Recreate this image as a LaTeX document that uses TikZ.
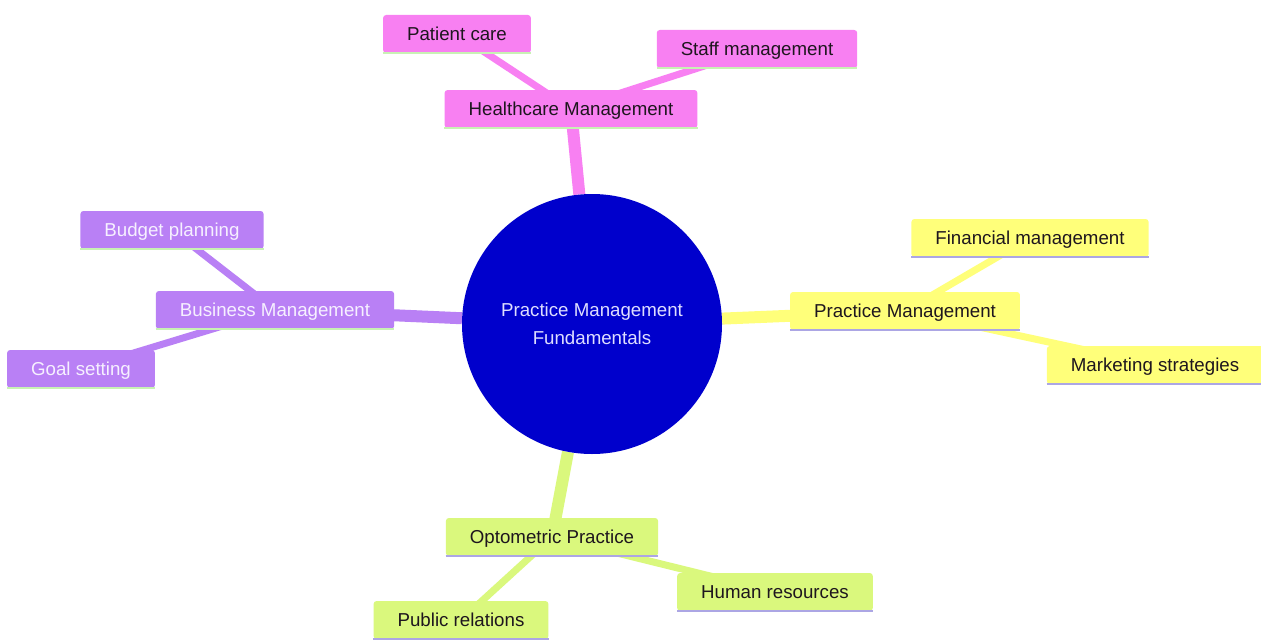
\documentclass[tikz,border=0pt]{standalone}
\usepackage{fontspec}
\setmainfont{Liberation Sans}
\usetikzlibrary{backgrounds}
\definecolor{pinkc}{RGB}{248,128,242}
\definecolor{purc}{RGB}{185,128,245}
\definecolor{yelc}{RGB}{255,255,122}
\definecolor{limc}{RGB}{218,248,125}
\definecolor{rootc}{RGB}{0,0,204}
\definecolor{roottext}{RGB}{222,222,255}
\definecolor{greenline}{RGB}{200,242,180}
\definecolor{lavline}{RGB}{172,166,228}
\definecolor{darktext}{RGB}{30,22,30}
\definecolor{lighttext}{RGB}{246,240,255}
\tikzset{
  mmnode/.style={rounded corners=3pt, inner xsep=24pt, inner ysep=0pt,
    minimum height=38pt, text height=13.4pt, text depth=0pt,
    font=\fontsize{18.7}{22}\selectfont, text=darktext},
  uline/.style={append after command={(\tikzlastnode.south west) edge[draw=#1, line width=2.5pt, rounded corners=0pt] (\tikzlastnode.south east)}},
  pinknode/.style={mmnode, fill=pinkc, uline=greenline},
  purnode/.style={mmnode, fill=purc, text=lighttext, uline=greenline},
  yelnode/.style={mmnode, fill=yelc, uline=lavline},
  limnode/.style={mmnode, fill=limc, uline=lavline},
  rootnode/.style={circle, fill=rootc, minimum size=260pt, inner sep=0pt, align=center,
    text=roottext, font=\fontsize{18.7}{28}\selectfont},
  rootedge/.style={line width=12pt},
  childedge/.style={line width=7pt}
}
\begin{document}
\begin{tikzpicture}[x=1pt, y=-1pt]
\useasboundingbox (0,0) rectangle (1261,642);
\node[rootnode] (root) at (592,324) {Practice Management\\Fundamentals};
\node[pinknode] (hc) at (571,109) {Healthcare Management};
\node[pinknode] (pc) at (457,34) {Patient care};
\node[pinknode] (sm) at (757,49) {Staff management};
\node[purnode] (bm) at (275,310) {Business Management};
\node[purnode] (bp) at (172,230) {Budget planning};
\node[purnode] (gs) at (81,369) {Goal setting};
\node[yelnode] (pm) at (905,311) {Practice Management};
\node[yelnode] (fm) at (1030,238) {Financial management};
\node[yelnode] (ms) at (1155,365) {Marketing strategies};
\node[limnode] (op) at (552,537) {Optometric Practice};
\node[limnode] (pr) at (461,620) {Public relations};
\node[limnode] (hr) at (775,592) {Human resources};
\begin{scope}[on background layer]
\fill[white] (0,0) rectangle (1261,642);
\draw[rootedge, pinkc] (root) -- (hc.center);
\draw[rootedge, purc] (root) -- (bm.center);
\draw[rootedge, yelc] (root) -- (pm.center);
\draw[rootedge, limc] (root) -- (op.center);
\draw[childedge, pinkc] (hc.center) -- (pc.center);
\draw[childedge, pinkc] (hc.center) -- (sm.center);
\draw[childedge, purc] (bm.center) -- (bp.center);
\draw[childedge, purc] (bm.center) -- (gs.center);
\draw[childedge, yelc] (pm.center) -- (fm.center);
\draw[childedge, yelc] (pm.center) -- (ms.center);
\draw[childedge, limc] (op.center) -- (pr.center);
\draw[childedge, limc] (op.center) -- (hr.center);
\end{scope}
\end{tikzpicture}
\end{document}
